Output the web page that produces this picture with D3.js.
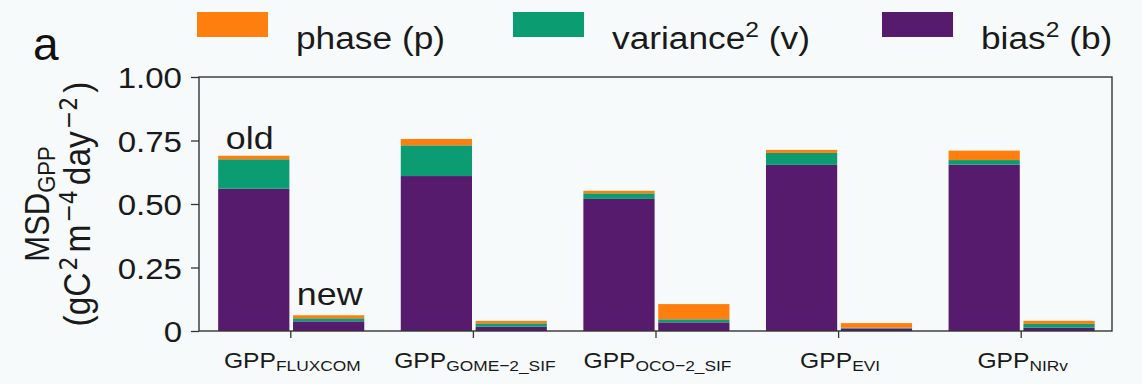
<!DOCTYPE html>
<html>
<head>
<meta charset="utf-8">
<script src="https://cdn.jsdelivr.net/npm/d3@7"></script>
<style>
  html, body { margin: 0; padding: 0; background: #f7fafb; }
  svg { display: block; font-family: "Liberation Sans", Arial, sans-serif; }
</style>
</head>
<body>
<svg id="chart" width="1142" height="384"></svg>
<script>
// GPP products (subscript of each x tick label)
const categories = ["FLUXCOM", "GOME\u22122_SIF", "OCO\u22122_SIF", "EVI", "NIRv"];
const versions = ["old", "new"];

// MSD components, old and new model versions
const biasOld     = [0.560, 0.610, 0.520, 0.654, 0.655];
const varianceOld = [0.116, 0.121, 0.022, 0.047, 0.018];
const phaseOld    = [0.014, 0.025, 0.010, 0.012, 0.037];
const biasNew     = [0.038, 0.017, 0.034, 0.010, 0.013];
const varianceNew = [0.012, 0.013, 0.012, 0.003, 0.015];
const phaseNew    = [0.012, 0.010, 0.060, 0.018, 0.012];

const yTicks = [0, 0.25, 0.5, 0.75, 1.0];
const yTickLabels = ["0", "0.25", "0.50", "0.75", "1.00"];

const components = ["bias", "variance", "phase"];
const colors = { bias: "#561b6c", variance: "#0c9c72", phase: "#ff7f0e" };

const SX = 1.12; // horizontal text stretch
const svg = d3.select("#chart");
const W = 1142, H = 384;
svg.append("rect").attr("width", W).attr("height", H).attr("fill", "#f7fafb");

const plot = { left: 199, right: 1112, top: 77, bottom: 331 };
const x = d3.scaleLinear().domain([-0.5, 4.5]).range([plot.left, plot.right]);
const y = d3.scaleLinear().domain([0, 1]).range([plot.bottom, plot.top]);

// rows for stacking
const rows = [];
categories.forEach((c, i) => {
  rows.push({ i, version: "old", bias: biasOld[i], variance: varianceOld[i], phase: phaseOld[i] });
  rows.push({ i, version: "new", bias: biasNew[i], variance: varianceNew[i], phase: phaseNew[i] });
});
const stacked = d3.stack().keys(components)(rows);

const barW = 0.39;
const offset = { old: -0.2, new: 0.21 };

const g = svg.append("g");
stacked.forEach(layer => {
  g.append("g").attr("fill", colors[layer.key])
    .selectAll("rect").data(layer).join("rect")
    .attr("x", d => x(d.data.i + offset[d.data.version] - barW / 2))
    .attr("width", d => x(barW) - x(0))
    .attr("y", d => y(d[1]))
    .attr("height", d => y(d[0]) - y(d[1]));
});

// frame
svg.append("rect")
  .attr("x", plot.left).attr("y", plot.top)
  .attr("width", plot.right - plot.left).attr("height", plot.bottom - plot.top)
  .attr("fill", "none").attr("stroke", "#333").attr("stroke-width", 1.4);

// y axis
const yAxis = svg.append("g").attr("transform", `translate(${plot.left},0)`)
  .call(d3.axisLeft(y).tickValues(yTicks).tickFormat((d, i) => yTickLabels[i]).tickSize(8).tickPadding(9));
yAxis.select(".domain").remove();
yAxis.selectAll(".tick line").attr("stroke", "#333").attr("stroke-width", 1.3);
yAxis.selectAll(".tick text")
  .attr("font-family", "Liberation Sans, Arial, sans-serif")
  .attr("font-size", 29.5).attr("fill", "#1a1a1a")
  .attr("x", -17 / SX).attr("dy", "0.36em")
  .attr("transform", `scale(${SX},1)`);

// x axis
const xAxis = svg.append("g").attr("transform", `translate(0,${plot.bottom})`)
  .call(d3.axisBottom(x).tickValues(d3.range(categories.length)).tickFormat("").tickSize(7));
xAxis.select(".domain").remove();
xAxis.selectAll(".tick line").attr("stroke", "#333").attr("stroke-width", 1.3);

categories.forEach((c, i) => {
  const t = svg.append("text")
    .attr("transform", `translate(${x(i) + 2},${368}) scale(${SX},1)`)
    .attr("text-anchor", "middle").attr("fill", "#1a1a1a")
    .attr("font-size", 22);
  t.append("tspan").text("GPP");
  t.append("tspan").attr("font-size", 15.5).attr("dy", 3).text(c);
});

// old/new annotations
svg.append("text")
  .attr("transform", `translate(${x(0 + offset.old) - 4},149) scale(${SX},1)`)
  .attr("text-anchor", "middle").attr("font-size", 32).attr("fill", "#1a1a1a").text(versions[0]);
svg.append("text")
  .attr("transform", `translate(${x(0 + offset.new) + 1},305) scale(${SX},1)`)
  .attr("text-anchor", "middle").attr("font-size", 32).attr("fill", "#1a1a1a").text(versions[1]);

// y axis title (two lines)
const yMid = (plot.top + plot.bottom) / 2;
const yl1 = svg.append("text")
  .attr("transform", `translate(49,${yMid}) scale(${SX},1) rotate(-90)`)
  .attr("text-anchor", "middle").attr("font-size", 31).attr("fill", "#1a1a1a");
yl1.append("tspan").text("MSD");
yl1.append("tspan").attr("font-size", 22).attr("dy", 5).text("GPP");

const yl2 = svg.append("text")
  .attr("transform", `translate(90,${yMid}) scale(${SX},1) rotate(-90)`)
  .attr("text-anchor", "middle").attr("font-size", 33.5).attr("fill", "#1a1a1a");
const supFont = "DejaVu Sans, sans-serif";
yl2.append("tspan").text("(gC");
yl2.append("tspan").attr("font-size", 22).attr("font-family", supFont).attr("dx", 2).attr("dy", -12).text("2");
yl2.append("tspan").attr("dx", 4).attr("dy", 12).text("m");
yl2.append("tspan").attr("font-size", 22).attr("font-family", supFont).attr("dx", 2).attr("dy", -12).text("\u22124");
yl2.append("tspan").attr("dx", 5).attr("dy", 12).text("day");
yl2.append("tspan").attr("font-size", 22).attr("font-family", supFont).attr("dx", 2).attr("dy", -12).text("\u22122");
yl2.append("tspan").attr("dx", 4).attr("dy", 12).text(")");

// panel letter
svg.append("text").attr("x", 33).attr("y", 60).attr("font-size", 46).attr("fill", "#111").text("a");

// legend
const legendItems = [
  { key: "phase", x: 197, label: [["phase (p)", null]] },
  { key: "variance", x: 513, label: [["variance", null], ["2", "sup"], [" (v)", null]] },
  { key: "bias", x: 882, label: [["bias", null], ["2", "sup"], [" (b)", null]] }
];
legendItems.forEach(it => {
  svg.append("rect").attr("x", it.x).attr("y", 12).attr("width", 71).attr("height", 25)
    .attr("fill", colors[it.key]);
  const t = svg.append("text")
    .attr("transform", `translate(${it.x + 99},37) scale(${SX},1)`)
    .attr("font-size", 31.5).attr("fill", "#1a1a1a");
  it.label.forEach(([s, kind]) => {
    if (kind === "sup") t.append("tspan").attr("font-size", 22).attr("dy", -12).text(s);
    else t.append("tspan").attr("dy", t.selectAll("tspan").size() ? 12 : 0).text(s);
  });
});
</script>
</body>
</html>
